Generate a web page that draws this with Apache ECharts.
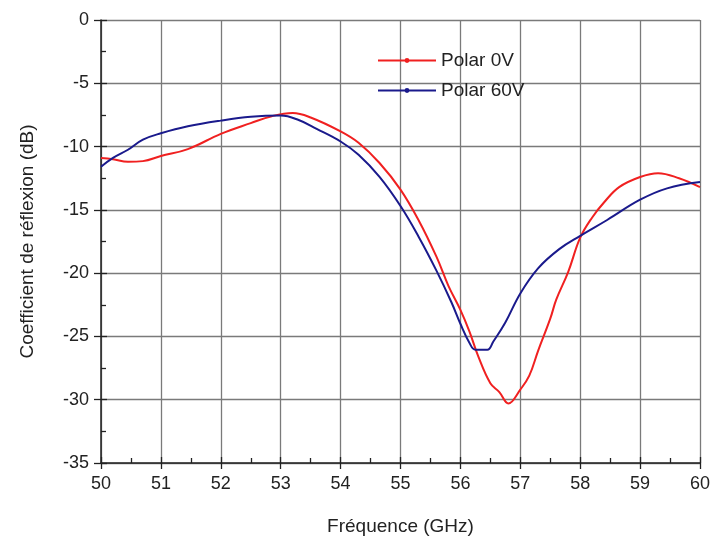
<!DOCTYPE html>
<html>
<head>
<meta charset="utf-8">
<script src="https://cdn.jsdelivr.net/npm/echarts@6/dist/echarts.min.js"></script>
<style>
	html, body { margin: 0; padding: 0; background: #fff; }
	#chart { width: 716px; height: 550px; }
</style>
</head>
<body>
<div id="chart"></div>
<script>
// [GHz, dB]
var polar0V = [
	[50.0,-10.9],[50.2,-11.0],[50.45,-11.2],[50.7,-11.15],[51.0,-10.75],[51.45,-10.2],
	[52.0,-9.0],[52.5,-8.15],[52.85,-7.6],[53.2,-7.35],[53.5,-7.7],[54.0,-8.8],
	[54.3,-9.7],[54.65,-11.3],[55.0,-13.4],[55.3,-15.8],[55.6,-18.7],[55.8,-21.0],
	[56.0,-22.9],[56.15,-24.6],[56.3,-26.6],[56.5,-28.7],[56.65,-29.4],[56.8,-30.3],
	[57.0,-29.2],[57.15,-28.1],[57.3,-26.1],[57.5,-23.6],[57.6,-22.1],[57.8,-19.9],
	[58.0,-17.2],[58.2,-15.6],[58.4,-14.4],[58.65,-13.2],[59.0,-12.4],[59.3,-12.1],[59.65,-12.5],[60.0,-13.2]
];
var polar60V = [
	[50.0,-11.6],[50.2,-10.9],[50.45,-10.25],[50.7,-9.45],[51.0,-8.95],[51.45,-8.4],
	[52.0,-7.95],[52.5,-7.65],[53.0,-7.55],[53.3,-7.9],[53.6,-8.6],[54.0,-9.6],
	[54.3,-10.65],[54.65,-12.4],[55.0,-14.7],[55.3,-17.1],[55.6,-19.8],[55.85,-22.3],
	[56.0,-24.0],[56.15,-25.5],[56.25,-26.05],[56.45,-26.05],[56.55,-25.4],[56.75,-23.9],
	[57.0,-21.6],[57.3,-19.6],[57.65,-18.1],[58.0,-17.05],[58.45,-15.8],[59.0,-14.2],
	[59.45,-13.3],[60.0,-12.8]
];
var seriesNames = ['Polar 0V', 'Polar 60V'];

var font = 'Liberation Sans, Arial, sans-serif';
var gridColor = '#7a7a7a';
var plotBox = { left: 101, right: 16, top: 20, bottom: 87 };

var chart = echarts.init(document.getElementById('chart'));
chart.setOption({
	animation: false,
	// grid 1 sits on top of grid 0 and only carries the outer major ticks
	grid: [plotBox, plotBox],
	legend: {
		orient: 'vertical',
		left: 372,
		top: 46,
		itemWidth: 58,
		itemHeight: 6,
		itemGap: 11,
		data: seriesNames,
		textStyle: { fontFamily: font, fontSize: 19, color: '#222' }
	},
	xAxis: [
		{
			type: 'value',
			gridIndex: 0,
			min: 50, max: 60, interval: 1,
			name: 'Fréquence (GHz)',
			nameLocation: 'middle',
			nameGap: 54,
			nameTextStyle: { fontFamily: font, fontSize: 19, color: '#222' },
			axisLine: { onZero: false, lineStyle: { color: '#222', width: 1.5 } },
			axisTick: { inside: true, length: 6, lineStyle: { color: '#222', width: 1.3 } },
			minorTick: { show: true, splitNumber: 2, length: 5, lineStyle: { color: '#222', width: 1.3 } },
			axisLabel: { fontFamily: font, fontSize: 18, color: '#222', margin: 12 },
			splitLine: { show: true, lineStyle: { color: gridColor, width: 1.3 } }
		},
		{
			type: 'value',
			gridIndex: 1,
			position: 'bottom',
			min: 50, max: 60, interval: 1,
			axisLine: { show: false, onZero: false },
			axisTick: { length: 6, lineStyle: { color: '#222', width: 1.3 } },
			axisLabel: { show: false },
			splitLine: { show: false }
		}
	],
	yAxis: [
		{
			type: 'value',
			gridIndex: 0,
			min: -35, max: 0, interval: 5,
			name: 'Coefficient de réflexion (dB)',
			nameLocation: 'middle',
			nameGap: 64,
			nameTextStyle: { fontFamily: font, fontSize: 19, color: '#222' },
			axisLine: { onZero: false, lineStyle: { color: '#222', width: 1.5 } },
			axisTick: { inside: true, length: 6, lineStyle: { color: '#222', width: 1.3 } },
			minorTick: { show: true, splitNumber: 2, length: 5, lineStyle: { color: '#222', width: 1.3 } },
			axisLabel: { fontFamily: font, fontSize: 18, color: '#222', margin: 12 },
			splitLine: { show: true, lineStyle: { color: gridColor, width: 1.3 } }
		},
		{
			type: 'value',
			gridIndex: 1,
			position: 'left',
			min: -35, max: 0, interval: 5,
			axisLine: { show: false, onZero: false },
			axisTick: { length: 7, lineStyle: { color: '#222', width: 1.3 } },
			axisLabel: { show: false },
			splitLine: { show: false }
		}
	],
	series: [
		{
			name: seriesNames[0],
			type: 'line',
			xAxisIndex: 0,
			yAxisIndex: 0,
			data: polar0V,
			smooth: 0.4,
			symbol: 'circle',
			symbolSize: 4,
			showSymbol: false,
			itemStyle: { color: '#f02020' },
			lineStyle: { color: '#f02020', width: 2 }
		},
		{
			name: seriesNames[1],
			type: 'line',
			xAxisIndex: 0,
			yAxisIndex: 0,
			data: polar60V,
			smooth: 0.4,
			symbol: 'circle',
			symbolSize: 4,
			showSymbol: false,
			itemStyle: { color: '#1a1a8c' },
			lineStyle: { color: '#1a1a8c', width: 2 }
		}
	]
});
</script>
</body>
</html>
